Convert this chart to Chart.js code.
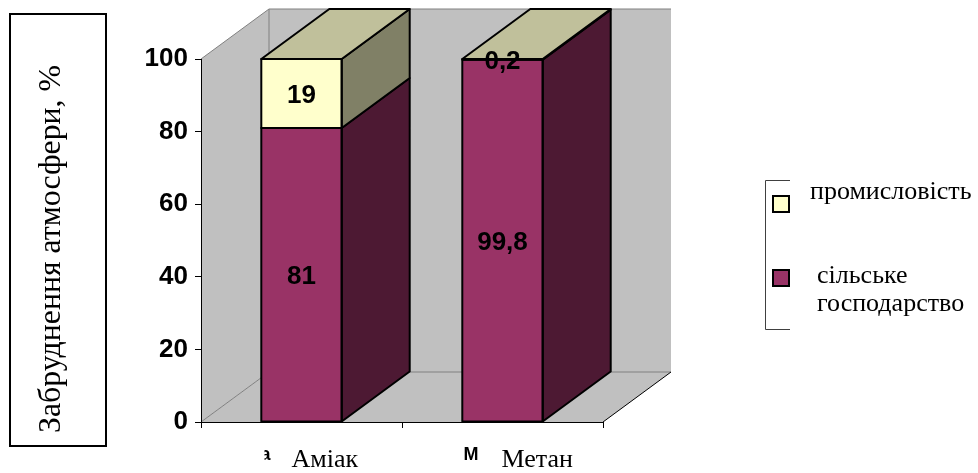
<!DOCTYPE html>
<html>
<head>
<meta charset="utf-8">
<script src="https://cdn.jsdelivr.net/npm/chart.js@4/dist/chart.umd.min.js"></script>
<style>
html,body{margin:0;padding:0;background:#fff;}
#wrap{width:978px;height:473px;position:relative;}
</style>
</head>
<body>
<div id="wrap"><canvas id="c" width="978" height="473"></canvas></div>
<script>
// ---- data ----
const categories = ['Аміак', 'Метан'];
const categoryFragments = ['а', 'М'];
const agriculture = [81, 99.8];
const industry = [19, 0.2];
const seriesNames = ['сільське господарство', 'промисловість'];
const legendLines = [['промисловість'], ['сільське', 'господарство']];
const yTicks = [0, 20, 40, 60, 80, 100];
const yTitle = 'Забруднення атмосфери, %';

// ---- style ----
const DX = 68, DY = -50;
const SANS = '"Liberation Sans", Arial, sans-serif';
const SERIF = '"Liberation Serif", "Times New Roman", serif';
const faces = [
  { front: '#993366', side: '#4D1933', top: '#7A2952' },
  { front: '#FFFFCC', side: '#808066', top: '#C0C09B' }
];

function fmt(v) { return String(v).replace('.', ','); }

const wallsPlugin = {
  id: 'walls',
  beforeDraw(chart) {
    const { ctx, scales: { x, y } } = chart;
    const L = x.left, R = x.right, T = y.getPixelForValue(y.max), B = y.getPixelForValue(y.min);
    ctx.save();
    ctx.fillStyle = '#C0C0C0';
    // back wall
    ctx.fillRect(L + DX, T + DY, R - L, B - T);
    // left wall
    ctx.beginPath();
    ctx.moveTo(L, T); ctx.lineTo(L + DX, T + DY); ctx.lineTo(L + DX, B + DY); ctx.lineTo(L, B); ctx.closePath();
    ctx.fill();
    // floor
    ctx.beginPath();
    ctx.moveTo(L, B); ctx.lineTo(L + DX, B + DY); ctx.lineTo(R + DX, B + DY); ctx.lineTo(R, B); ctx.closePath();
    ctx.fill();
    ctx.strokeStyle = '#808080';
    ctx.lineWidth = 1;
    ctx.beginPath();
    ctx.moveTo(L, T); ctx.lineTo(L + DX, T + DY); ctx.lineTo(R + DX, T + DY);
    ctx.moveTo(L + DX, T + DY); ctx.lineTo(L + DX, B + DY); ctx.lineTo(R + DX, B + DY);
    ctx.moveTo(L, B); ctx.lineTo(L + DX, B + DY);
    ctx.stroke();
    ctx.strokeStyle = '#000';
    ctx.beginPath();
    ctx.moveTo(R, B); ctx.lineTo(R + DX, B + DY);
    ctx.stroke();
    ctx.restore();
  }
};

const barsPlugin = {
  id: 'bars3d',
  afterDatasetsDraw(chart) {
    const { ctx } = chart;
    const n = chart.data.datasets.length;
    ctx.save();
    ctx.lineWidth = 2;
    ctx.strokeStyle = '#000';
    ctx.lineJoin = 'round';
    for (let d = 0; d < n; d++) {
      const meta = chart.getDatasetMeta(d);
      meta.data.forEach((el) => {
        const p = el.getProps(['x', 'y', 'base', 'width'], true);
        const l = p.x - p.width / 2, r = p.x + p.width / 2;
        const t = Math.min(p.y, p.base), b = Math.max(p.y, p.base);
        // side
        ctx.fillStyle = faces[d].side;
        ctx.beginPath();
        ctx.moveTo(r, t); ctx.lineTo(r + DX, t + DY); ctx.lineTo(r + DX, b + DY); ctx.lineTo(r, b); ctx.closePath();
        ctx.fill(); ctx.stroke();
        // top (only top of stack)
        if (d === n - 1) {
          ctx.fillStyle = faces[d].top;
          ctx.beginPath();
          ctx.moveTo(l, t); ctx.lineTo(l + DX, t + DY); ctx.lineTo(r + DX, t + DY); ctx.lineTo(r, t); ctx.closePath();
          ctx.fill(); ctx.stroke();
        }
        // front outline
        ctx.strokeRect(l, t, r - l, b - t);
      });
    }
    // value labels
    ctx.fillStyle = '#000';
    ctx.font = 'bold 26px ' + SANS;
    ctx.textAlign = 'center';
    ctx.textBaseline = 'middle';
    for (let d = 0; d < n; d++) {
      const meta = chart.getDatasetMeta(d);
      const vals = chart.data.datasets[d].data;
      meta.data.forEach((el, i) => {
        const p = el.getProps(['x', 'y', 'base'], true);
        ctx.fillText(fmt(vals[i]), p.x, (p.y + p.base) / 2 + 2);
      });
    }
    ctx.restore();
  }
};

const LABEL_DX = [-10, -1];
const FRAG_DX = [-31, -39];

const overlayPlugin = {
  id: 'overlay',
  afterDraw(chart) {
    const { ctx, scales: { x } } = chart;
    ctx.save();
    // y-axis title box
    ctx.strokeStyle = '#000';
    ctx.lineWidth = 2;
    ctx.strokeRect(10, 14, 96, 432);
    ctx.save();
    ctx.translate(60, 249);
    ctx.rotate(-Math.PI / 2);
    ctx.fillStyle = '#000';
    ctx.font = '32px ' + SERIF;
    ctx.textAlign = 'center';
    ctx.textBaseline = 'alphabetic';
    const w = ctx.measureText(yTitle).width;
    const sx = 368 / w;
    ctx.scale(sx, 1);
    ctx.fillText(yTitle, 0, 0);
    ctx.restore();

    // category labels
    ctx.fillStyle = '#000';
    ctx.textBaseline = 'alphabetic';
    categories.forEach((c, i) => {
      const cx = x.getPixelForValue(i);
      ctx.font = '26px ' + SERIF;
      ctx.textAlign = 'left';
      ctx.fillText(c, cx + LABEL_DX[i], 467);
    });
    // clipped original label fragments
    ctx.font = 'bold 18px ' + SANS;
    ctx.save();
    ctx.beginPath();
    ctx.rect(x.getPixelForValue(0) - 37, 440, 40, 30);
    ctx.clip();
    ctx.textAlign = 'right';
    ctx.fillText(categoryFragments[0], x.getPixelForValue(0) - 31, 460);
    ctx.restore();
    ctx.textAlign = 'left';
    ctx.fillText(categoryFragments[1], x.getPixelForValue(1) + FRAG_DX[1], 460);

    // legend
    ctx.strokeStyle = '#404040';
    ctx.lineWidth = 1;
    ctx.beginPath();
    ctx.moveTo(790, 180.5); ctx.lineTo(765.5, 180.5); ctx.lineTo(765.5, 329.5); ctx.lineTo(790, 329.5);
    ctx.stroke();
    const swatches = [faces[1].front, faces[0].front];
    const swY = [196, 270];
    const textX = [810, 817];
    const textY = [[199], [283, 311]];
    ctx.lineWidth = 2;
    ctx.strokeStyle = '#000';
    ctx.font = '26px ' + SERIF;
    ctx.textAlign = 'left';
    legendLines.forEach((lines, k) => {
      ctx.fillStyle = swatches[k];
      ctx.fillRect(773, swY[k], 16, 16);
      ctx.strokeRect(773, swY[k], 16, 16);
      ctx.fillStyle = '#000';
      lines.forEach((t, j) => ctx.fillText(t, textX[k], textY[k][j]));
    });
    ctx.restore();
  }
};

new Chart(document.getElementById('c'), {
  type: 'bar',
  data: {
    labels: categories,
    datasets: [
      { label: seriesNames[0], data: agriculture, backgroundColor: faces[0].front, borderWidth: 0 },
      { label: seriesNames[1], data: industry, backgroundColor: faces[1].front, borderWidth: 0 }
    ]
  },
  options: {
    responsive: false,
    animation: false,
    devicePixelRatio: 1,
    events: [],
    layout: { padding: { left: 101, top: 59, right: 375, bottom: 0 } },
    datasets: { bar: { categoryPercentage: 1, barPercentage: 0.4 } },
    plugins: { legend: { display: false }, tooltip: { enabled: false }, title: { display: false } },
    scales: {
      x: {
        stacked: true,
        grid: { display: true, drawOnChartArea: false, drawTicks: true, tickLength: 6, color: '#000', offset: true },
        border: { display: true, color: '#000', width: 1 },
        ticks: { display: false },
        afterFit(s) { s.height = 51; }
      },
      y: {
        stacked: true,
        min: 0,
        max: 100,
        grid: { display: true, drawOnChartArea: false, drawTicks: true, tickLength: 6, color: '#000' },
        border: { display: true, color: '#000', width: 1 },
        afterBuildTicks(s) { s.ticks = yTicks.map(v => ({ value: v })); },
        ticks: { color: '#000', font: { family: SANS, size: 26, weight: 'bold' }, padding: 7 },
        afterFit(s) { s.width = 100; }
      }
    }
  },
  plugins: [wallsPlugin, barsPlugin, overlayPlugin]
});
</script>
</body>
</html>
